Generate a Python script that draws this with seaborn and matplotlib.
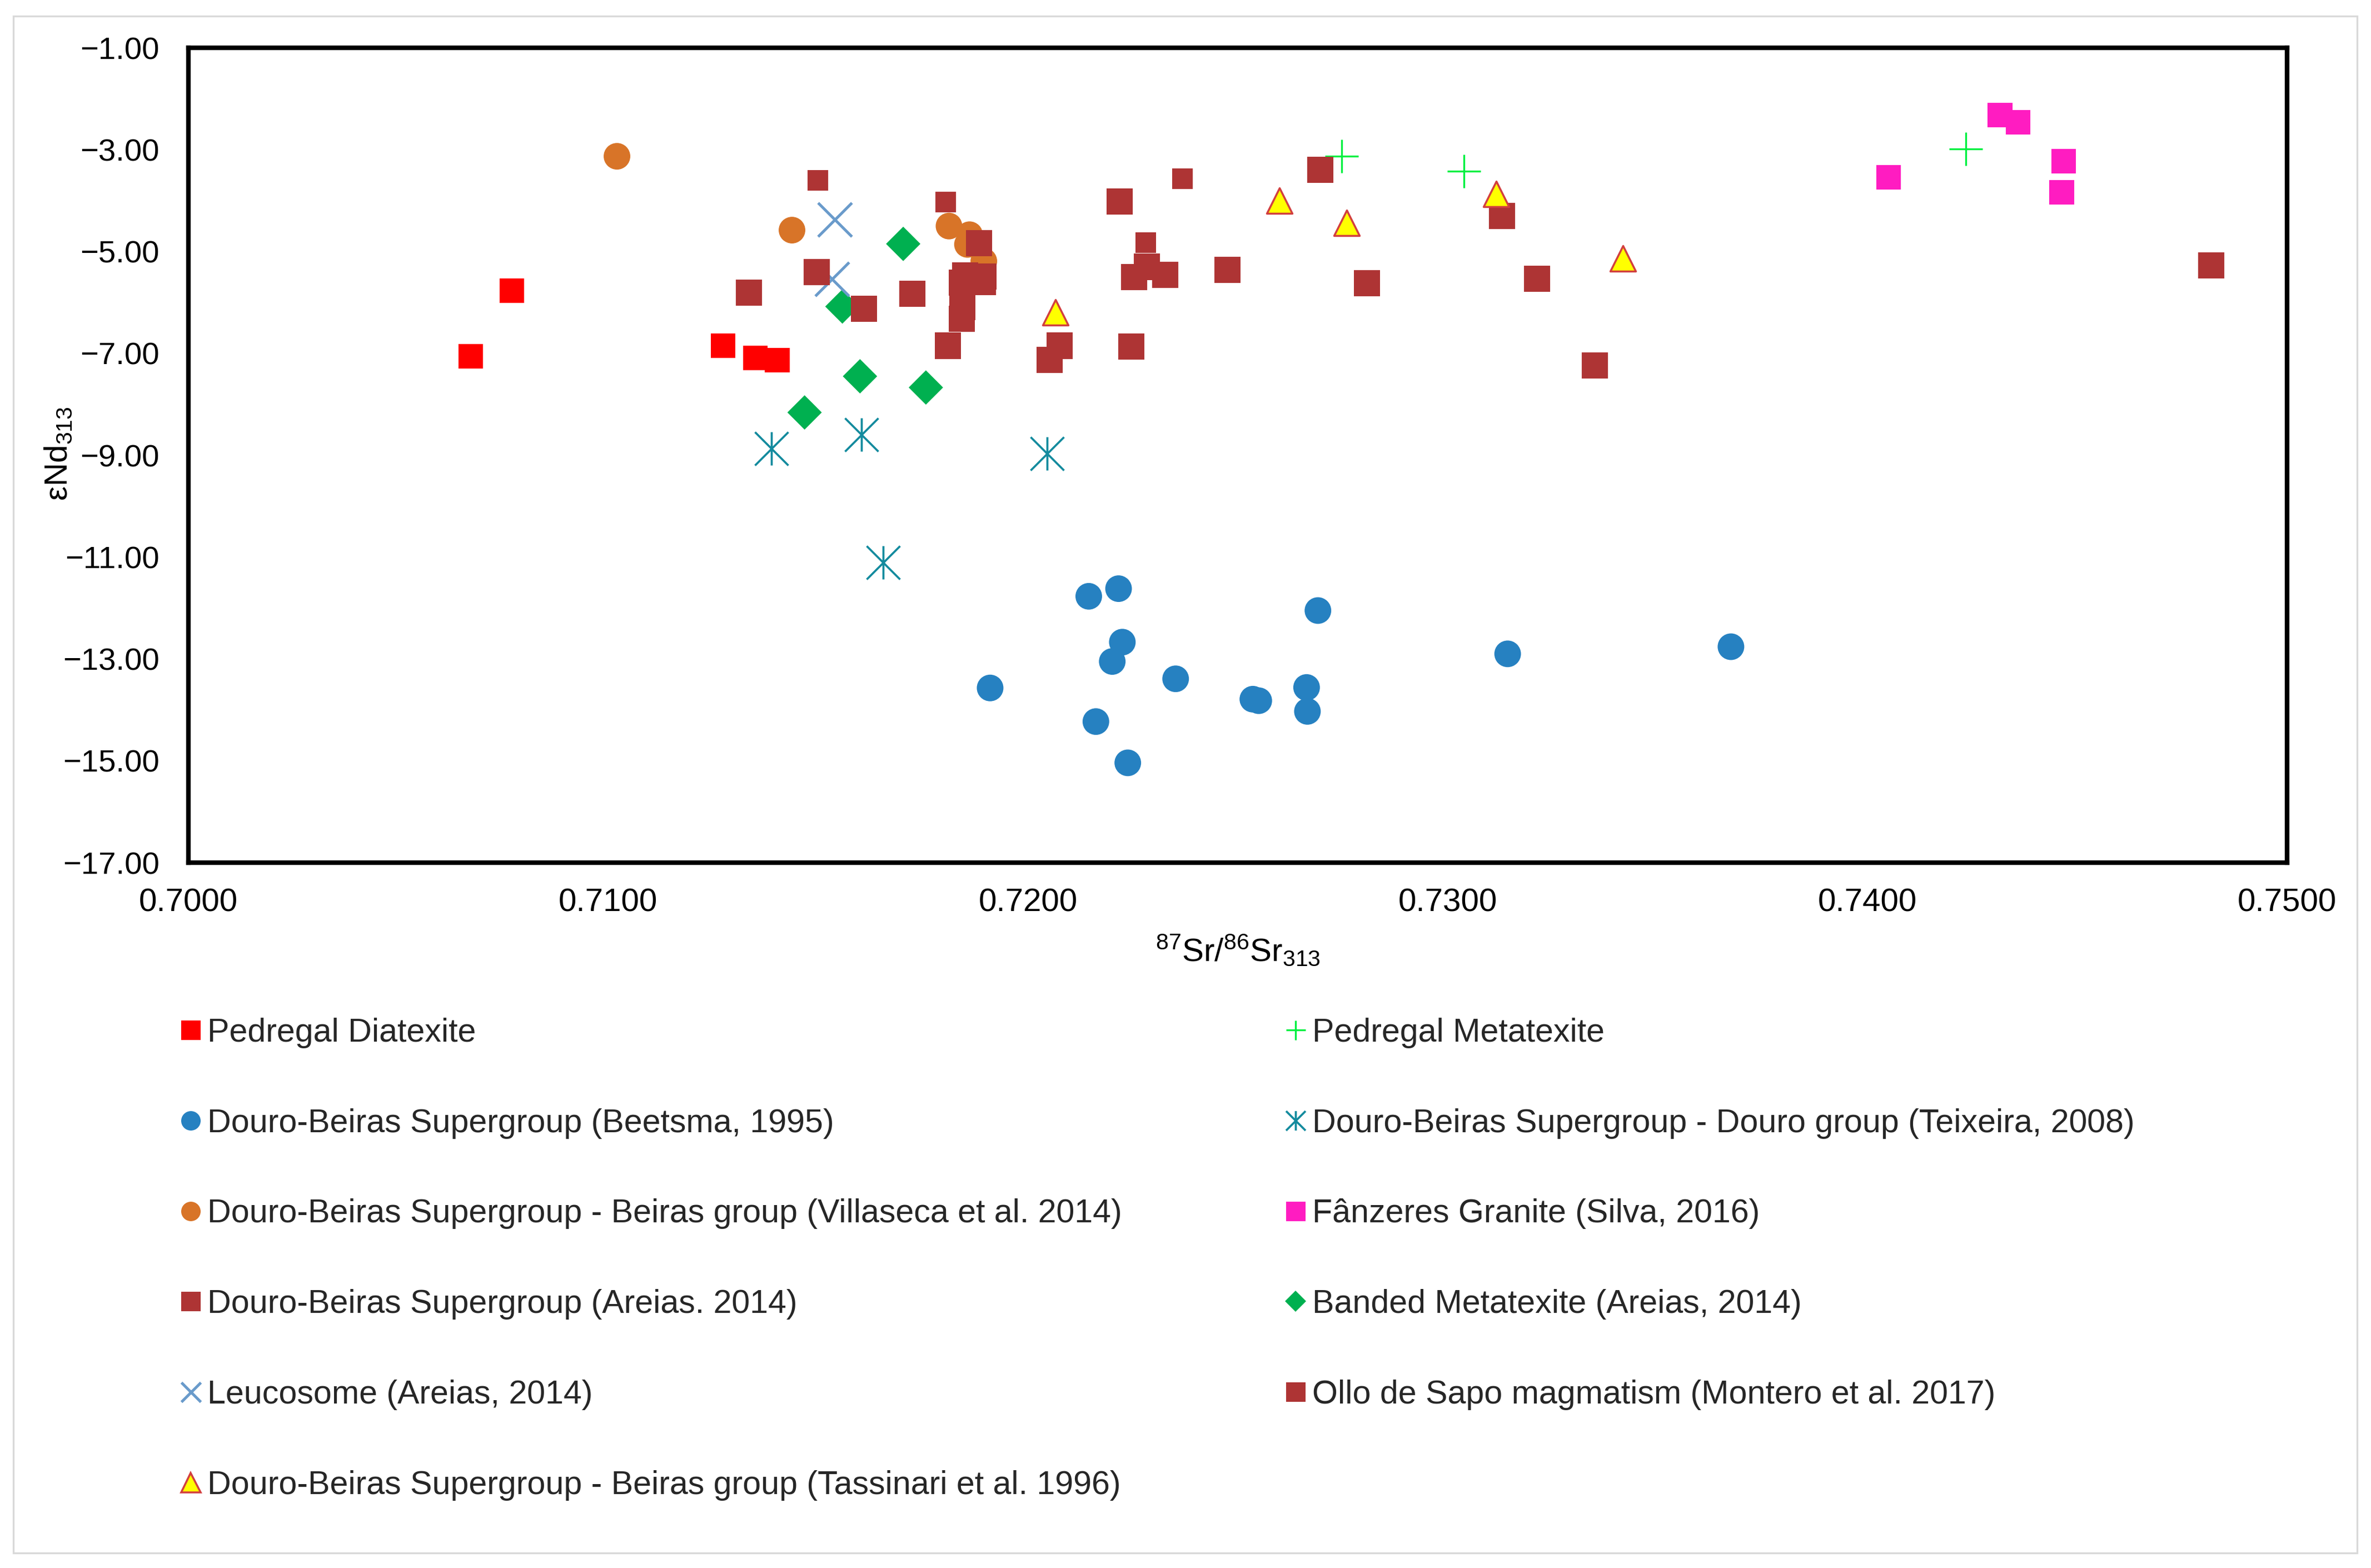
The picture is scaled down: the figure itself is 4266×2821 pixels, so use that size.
import numpy as np
import pandas as pd
import matplotlib
matplotlib.use("Agg")
import matplotlib.pyplot as plt
import seaborn as sns
from matplotlib.lines import Line2D
from matplotlib.path import Path
from matplotlib.patches import Rectangle

# data
diatexite_sr = [0.70673, 0.70771, 0.71274, 0.71351, 0.71403]
diatexite_nd = [-7.06, -5.77, -6.85, -7.09, -7.13]

metatexite_sr = [0.72747, 0.73039, 0.74234]
metatexite_nd = [-3.13, -3.42, -2.99]

beetsma_sr = [0.72145, 0.72216, 0.72691, 0.72225, 0.72201, 0.71910, 0.72352, 0.72536,
              0.72550, 0.72664, 0.72666, 0.73143, 0.73675, 0.72162, 0.72238]
beetsma_nd = [-11.77, -11.62, -12.05, -12.67, -13.05, -13.57, -13.39, -13.79,
              -13.82, -13.56, -14.03, -12.90, -12.76, -14.23, -15.04]

teixeira_sr = [0.71389, 0.71604, 0.72046, 0.71655]
teixeira_nd = [-8.87, -8.60, -8.97, -11.11]

villaseca_sr = [0.71021, 0.71438, 0.71812, 0.71861, 0.71856, 0.71895]
villaseca_nd = [-3.13, -4.58, -4.50, -4.67, -4.86, -5.19]

fanzeres_sr = [0.74050, 0.74316, 0.74359, 0.74468, 0.74463]
fanzeres_nd = [-3.54, -2.32, -2.46, -3.23, -3.84]

areias_sr = [0.71499, 0.71804, 0.72368, 0.72281]
areias_nd = [-3.60, -4.03, -3.57, -4.83]

banded_sr = [0.71703, 0.71558, 0.71600, 0.71757, 0.71468]
banded_nd = [-4.85, -6.08, -7.45, -7.67, -8.16]

leucosome_sr = [0.71540, 0.71533]
leucosome_nd = [-4.37, -5.54]

ollo_sr = [0.71497, 0.71335, 0.71610, 0.71725, 0.71883, 0.71850, 0.71894, 0.71893,
           0.71842, 0.71844, 0.71842, 0.71809, 0.72076, 0.72052, 0.72219, 0.72283,
           0.72253, 0.72327, 0.72475, 0.72697, 0.72808, 0.72246, 0.73130, 0.73213,
           0.73351, 0.74819]
ollo_nd = [-5.40, -5.81, -6.12, -5.83, -4.84, -5.47, -5.49, -5.60,
           -5.61, -6.09, -6.32, -6.85, -6.85, -7.13, -4.02, -5.30,
           -5.50, -5.46, -5.36, -3.40, -5.62, -6.87, -4.30, -5.53,
           -7.24, -5.27]

tassinari_sr = [0.72599, 0.72759, 0.72066, 0.73116, 0.73418]
tassinari_nd = [-4.00, -4.44, -6.19, -3.87, -5.14]

x_ticks = [0.70, 0.71, 0.72, 0.73, 0.74, 0.75]
y_ticks = [-17, -15, -13, -11, -9, -7, -5, -3, -1]

# excel style "star" marker: vertical bar plus an x
star = Path([(0, -1), (0, 1), (-1, -1), (1, 1), (-1, 1), (1, -1)],
            [Path.MOVETO, Path.LINETO, Path.MOVETO, Path.LINETO, Path.MOVETO, Path.LINETO])

# label, x, y, marker, size(pt), face, edge, linewidth, legend size
series = [
    ("Pedregal Diatexite", diatexite_sr, diatexite_nd, "s", 10.6, "#FF0000", "none", 0, 8.4),
    ("Pedregal Metatexite", metatexite_sr, metatexite_nd, "+", 14.2, "#00F040", "#00F040", 0.8, 8.4),
    ("Douro-Beiras Supergroup (Beetsma, 1995)", beetsma_sr, beetsma_nd, "o", 11.5, "#2681C1", "none", 0, 8.4),
    ("Douro-Beiras Supergroup - Douro group (Teixeira, 2008)", teixeira_sr, teixeira_nd, star, 14.4, "#148B9E", "#148B9E", 0.9, 8.4),
    ("Douro-Beiras Supergroup - Beiras group (Villaseca et al. 2014)", villaseca_sr, villaseca_nd, "o", 11.5, "#D87428", "none", 0, 8.4),
    ("Fânzeres Granite (Silva, 2016)", fanzeres_sr, fanzeres_nd, "s", 10.6, "#FF1CC1", "none", 0, 8.4),
    ("Douro-Beiras Supergroup (Areias. 2014)", areias_sr, areias_nd, "s", 8.9, "#AE3434", "none", 0, 8.4),
    ("Banded Metatexite (Areias, 2014)", banded_sr, banded_nd, "D", 10.5, "#00B050", "none", 0, 6.6),
    ("Leucosome (Areias, 2014)", leucosome_sr, leucosome_nd, "x", 14.6, "#6A9BCB", "#6A9BCB", 1.2, 8.4),
    ("Ollo de Sapo magmatism (Montero et al. 2017)", ollo_sr, ollo_nd, "s", 11.3, "#AE3434", "none", 0, 8.4),
    ("Douro-Beiras Supergroup - Beiras group (Tassinari et al. 1996)", tassinari_sr, tassinari_nd, "^", 11.0, "#FFFF00", "#D23F3F", 0.85, 8.4),
]

sns.set_theme(style="white")
plt.rcParams["font.family"] = ["Liberation Sans", "DejaVu Sans"]
plt.rcParams["mathtext.fontset"] = "custom"
plt.rcParams["mathtext.rm"] = "Liberation Sans"
plt.rcParams["mathtext.it"] = "Liberation Sans:italic"
plt.rcParams["axes.unicode_minus"] = True

fig = plt.figure(figsize=(4266 / 300, 2821 / 300), dpi=300)
fig.patch.set_facecolor("white")
ax = fig.add_axes([0.07947, 0.44984, 0.88514, 0.51967])

handles = []
for label, xs, ys, mk, size, face, edge, lw, leg_size in series:
    df = pd.DataFrame({"sr": xs, "nd": ys})
    sns.scatterplot(data=df, x="sr", y="nd", ax=ax, marker=mk, s=size ** 2,
                    color=face, edgecolor=edge, linewidth=lw, zorder=3, legend=False)
    if mk in ("+", "x") or mk is star:
        h = Line2D([], [], linestyle="none", marker=mk, markersize=leg_size,
                   markeredgecolor=edge, markeredgewidth=lw)
    else:
        h = Line2D([], [], linestyle="none", marker=mk, markersize=leg_size,
                   markerfacecolor=face, markeredgecolor=edge if lw else face,
                   markeredgewidth=lw)
    handles.append((h, label))

ax.set_xlim(0.70, 0.75)
ax.set_ylim(-17, -1)
ax.set_xticks(x_ticks)
ax.set_yticks(y_ticks)
ax.set_xticklabels([f"{v:.4f}" for v in x_ticks], fontsize=14)
ax.set_yticklabels([f"{v:.2f}".replace("-", "\u2212") for v in y_ticks], fontsize=13.5)
ax.tick_params(axis="both", length=0, colors="black")
ax.tick_params(axis="x", pad=11)
ax.tick_params(axis="y", pad=12.5)
for sp in ax.spines.values():
    sp.set_visible(True)
    sp.set_color("black")
    sp.set_linewidth(2.0)
ax.grid(False)

ax.set_xlabel(r"$^{87}$Sr/$^{86}$Sr$_{313}$", fontsize=14, color="black")
ax.set_ylabel(r"εNd$_{313}$", fontsize=14, color="black")
ax.xaxis.set_label_coords(0.5, -0.0865)
ax.yaxis.set_label_coords(-0.0545, 0.502)

# legend laid out in two columns, row by row like the original
left_col = handles[0::2]
right_col = handles[1::2]
leg_kw = dict(loc="upper left", frameon=False, fontsize=14.2, borderpad=0, borderaxespad=0,
              handlelength=0.6, handletextpad=0.2, labelspacing=1.82)
fig.legend([h for h, _ in left_col], [l for _, l in left_col],
           bbox_to_anchor=(0.0763, 0.3509), **leg_kw)
fig.legend([h for h, _ in right_col], [l for _, l in right_col],
           bbox_to_anchor=(0.5423, 0.3509), **leg_kw)

# thin outer chart-area border
fig.add_artist(Rectangle((0.0056, 0.0096), 0.9885, 0.980, transform=fig.transFigure,
                         fill=False, edgecolor="#D9D9D9", linewidth=0.8))

fig.savefig("out.png", dpi=300, facecolor="white")
